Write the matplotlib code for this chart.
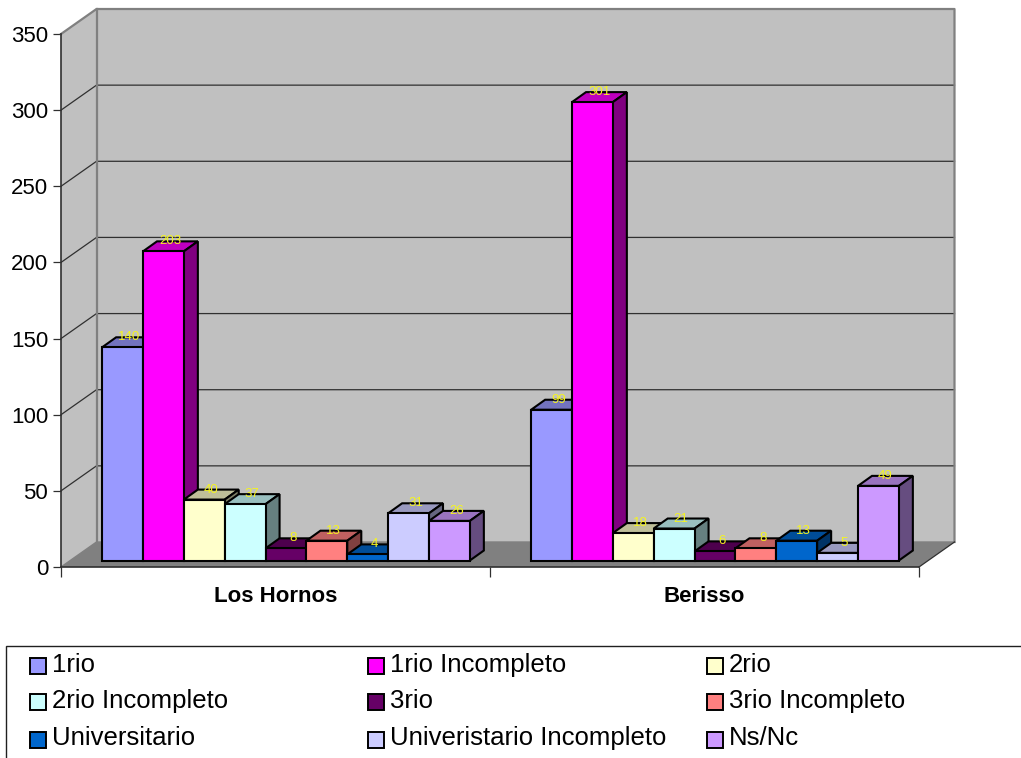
import matplotlib
matplotlib.use('Agg')
import matplotlib.pyplot as plt
from matplotlib.patches import Rectangle
from matplotlib.colors import to_rgb

plt.rcParams['font.family'] = ['Liberation Sans', 'DejaVu Sans']

categories = ['Los Hornos', 'Berisso']
series = ['1rio', '1rio Incompleto', '2rio', '2rio Incompleto', '3rio',
          '3rio Incompleto', 'Universitario', 'Univeristario Incompleto', 'Ns/Nc']
los_hornos = [140, 203, 40, 37, 8, 13, 4, 31, 26]
berisso = [99, 301, 18, 21, 6, 8, 13, 5, 49]
colors = ['#9999FF', '#FF00FF', '#FFFFCC', '#CCFFFF', '#660066',
          '#FF8080', '#0066CC', '#CCCCFF', '#CC99FF']
yticks = [0, 50, 100, 150, 200, 250, 300, 350]

W, H = 1021, 758
fig = plt.figure(figsize=(W / 100, H / 100), dpi=100, facecolor='white')
ax = fig.add_axes([61 / W, 1 - 567 / H, 858 / W, 533 / H])
ax.set_xlim(0, 2)
ax.set_ylim(0, 350)
ax.patch.set_visible(False)

# size of one pixel in data units, used for the fake 3d offsets
px = 2 / 858
py = 350 / 533
wall_dx, wall_dy = 35.5 * px, 25 * py
base_dx, base_dy = 10.5 * px, 6.5 * py
depth_dx, depth_dy = 14 * px, 10 * py
bar_w = 1 / 10.5
gap = 0.75 * bar_w


def shade(c, k):
    r, g, b = to_rgb(c)
    return (r * k, g * k, b * k)


# walls and floor
ax.fill([0, wall_dx, wall_dx, 0], [0, wall_dy, 350 + wall_dy, 350],
        color='#C0C0C0', lw=0, zorder=1, clip_on=False)
ax.fill([wall_dx, 2 + wall_dx, 2 + wall_dx, wall_dx], [wall_dy, wall_dy, 350 + wall_dy, 350 + wall_dy],
        color='#C0C0C0', lw=0, zorder=1, clip_on=False)
ax.fill([0, 2, 2 + wall_dx, wall_dx], [0, 0, wall_dy, wall_dy],
        color='#808080', lw=0, zorder=1, clip_on=False)

# gridlines run over the side wall and the back wall
for t in yticks[1:-1]:
    ax.plot([0, wall_dx, 2 + wall_dx], [t, t + wall_dy, t + wall_dy],
            color='#303030', lw=0.9, zorder=2, clip_on=False)
ax.plot([0, wall_dx, 2 + wall_dx, 2 + wall_dx], [350, 350 + wall_dy, 350 + wall_dy, wall_dy],
        color='#808080', lw=1.6, zorder=2, clip_on=False)
ax.plot([wall_dx, wall_dx], [wall_dy, 350 + wall_dy], color='#808080', lw=1.6, zorder=2, clip_on=False)
ax.plot([0, wall_dx, 2 + wall_dx], [0, wall_dy, wall_dy], color='#808080', lw=1.0, zorder=2, clip_on=False)
ax.plot([2, 2 + wall_dx], [0, wall_dy], color='#303030', lw=0.9, zorder=2, clip_on=False)

# bars, left to right so each front covers the side of the one before
z = 3
edge = dict(edgecolor='black', lw=1.5, clip_on=False, joinstyle='miter')
for g, values in enumerate([los_hornos, berisso]):
    for i, v in enumerate(values):
        x0 = g + gap + i * bar_w + base_dx
        x1 = x0 + bar_w
        y0 = base_dy
        y1 = base_dy + v
        ax.fill([x0, x1, x1 + depth_dx, x0 + depth_dx], [y1, y1, y1 + depth_dy, y1 + depth_dy],
                facecolor=shade(colors[i], 0.75), zorder=z, **edge)
        ax.fill([x1, x1 + depth_dx, x1 + depth_dx, x1], [y0, y0 + depth_dy, y1 + depth_dy, y1],
                facecolor=shade(colors[i], 0.5), zorder=z, **edge)
        ax.bar(x0, v, bar_w, bottom=y0, align='edge', color=colors[i], zorder=z + 1, **edge)
        z += 2

# value labels go on top of all the bars
for g, values in enumerate([los_hornos, berisso]):
    for i, v in enumerate(values):
        xc = g + gap + (i + 0.5) * bar_w + base_dx + 7 * px
        ax.text(xc, base_dy + v + 10 * py, str(v), color='#F5F51E', fontsize=9.5,
                ha='center', va='center', zorder=100, clip_on=False)

# axes
for s in ['top', 'right']:
    ax.spines[s].set_visible(False)
for s in ['left', 'bottom']:
    ax.spines[s].set_color('#303030')
    ax.spines[s].set_linewidth(1.2)
    ax.spines[s].set_zorder(50)
ax.set_yticks(yticks)
ax.set_yticklabels([str(t) for t in yticks], fontsize=16)
ax.tick_params(axis='y', length=5.8, width=0.9, color='#303030', pad=3.5)
ax.set_xticks([0, 1, 2])
ax.set_xticklabels([])
ax.tick_params(axis='x', length=7.2, width=0.9, color='#303030')
for g, name in enumerate(categories):
    ax.annotate(name, (g + 0.5, 0), xytext=(0, -29 * 0.72), textcoords='offset points',
                ha='center', va='center', fontsize=16, fontweight='bold', annotation_clip=False)

# legend box, three columns
fig.add_artist(Rectangle((6 / W, -0.01), 1.02, 1 - 646 / H + 0.01, transform=fig.transFigure,
                         facecolor='white', edgecolor='#202020', lw=1.0))
col_x = [30, 368, 707]
swatch_y = [666, 702, 740]
baseline_y = [672, 708, 745]
for i, name in enumerate(series):
    cx = col_x[i % 3]
    fig.add_artist(Rectangle((cx / W, 1 - (swatch_y[i // 3] + 8) / H), 16 / W, 16 / H, transform=fig.transFigure,
                             facecolor=colors[i], edgecolor='black', lw=1.4))
    fig.text((cx + 22) / W, 1 - baseline_y[i // 3] / H, name, fontsize=18.5, ha='left', va='baseline')

fig.savefig('out.png', dpi=100)
